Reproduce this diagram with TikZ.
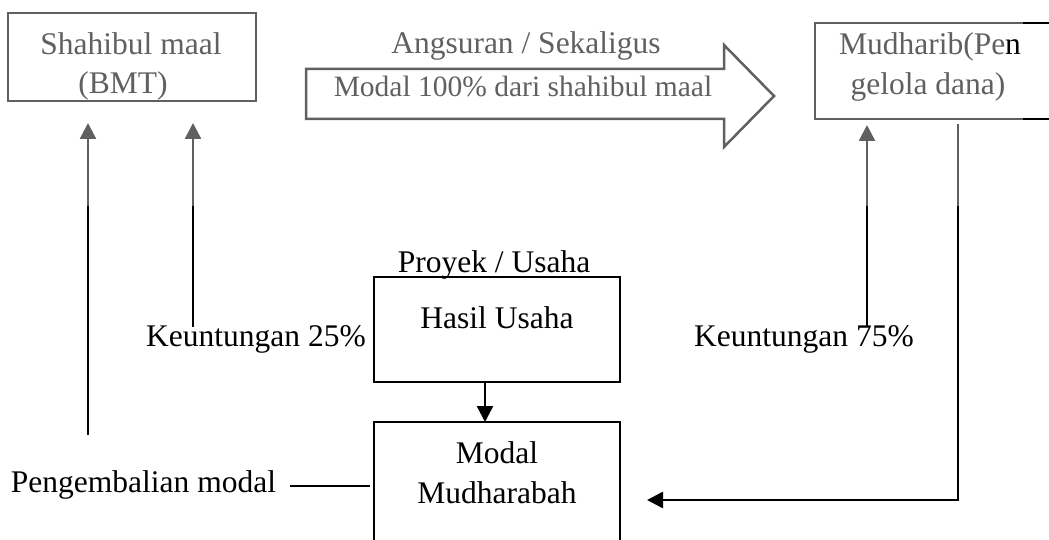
\documentclass[tikz,border=0pt]{standalone}
\usepackage{fontspec}
\setmainfont{Liberation Serif}
\usetikzlibrary{arrows.meta,calc}
\definecolor{fade}{RGB}{96,96,96}
\begin{document}
\begin{tikzpicture}[x=1pt,y=-1pt,
  box/.style={draw, line width=2.5pt, inner sep=0pt, outer sep=0pt},
  lbl/.style={inner sep=0pt, anchor=base, font=\fontsize{31.5}{38}\selectfont},
  conn/.style={line width=2.5pt},
  tipped/.style={-{Triangle[length=16pt,width=16pt]}}
]
\useasboundingbox (0,0) rectangle (1049,540);
\clip (0,0) rectangle (1049,540);
\fill[white] (0,0) rectangle (1049,540);

% boxes
\node[box, draw=fade, minimum width=248pt, minimum height=88pt] (sm) at (132,57) {};
\node[box, draw=fade, minimum width=262pt, minimum height=96pt] (mu) at (946,71) {};
\draw[line width=2.5pt] ($(mu.north west)+(208,0)$) -- (mu.north east);
\draw[line width=2.5pt] ($(mu.south west)+(208,0)$) -- (mu.south east);
\node[box, minimum width=246pt, minimum height=105pt] (hu) at (497,329.5) {};
\node[box, minimum width=246pt, minimum height=138pt] (mm) at (497,491) {};

% block arrow
\draw[fade, line width=2.5pt, line join=miter] (306,69) -- (724,69) -- (724,45) -- (774,96) -- (724,147) -- (724,119) -- (306,119) -- cycle;

% texts
\node[lbl, text=fade] (t1) at (131,55) {Shahibul maal};
\node[lbl, text=fade] (t2) at (123,94) {(BMT)};
\node[lbl, text=fade] (t3) at (526,54) {Angsuran / Sekaligus};
\node[lbl, text=fade, font=\fontsize{29.5}{36}\selectfont] (t4) at (523,97) {Modal 100\% dari shahibul maal};
\node[lbl, text=fade] (t5) at (930,55) {Mudharib(Pe\textcolor{black}{n}};
\node[lbl, text=fade] (t6) at (928,95) {gelola dana)};

% connectors
\coordinate (a1s) at (88,435);  \coordinate (a1m) at (88,206);
\coordinate (a2s) at (193,327); \coordinate (a2m) at (193,206);
\coordinate (a3s) at (867,327); \coordinate (a3m) at (867,206);
\coordinate (a4m) at (958,206); \coordinate (a4c) at (958,500);
\coordinate (pm) at (0,486);    \coordinate (pmstart) at (290,486);

\draw[conn] (a1s) -- (a1m);
\draw[conn, fade, tipped] (a1m) -- ($(sm.south -| a1m)+(0,22)$);
\draw[conn] (a2s) -- (a2m);
\draw[conn, fade, tipped] (a2m) -- ($(sm.south -| a2m)+(0,22)$);
\draw[conn] (a3s) -- (a3m);
\draw[conn, fade, tipped] (a3m) -- ($(mu.south -| a3m)+(0,6)$);
\draw[conn, fade] ($(mu.south -| a4m)+(0,5)$) -- (a4m);
\draw[conn, tipped] (a4m) -- (a4c) -- ($(mm.east |- a4c)+(27,0)$);
\draw[conn, tipped] (hu.south -| 485,0) -- (mm.north -| 485,0);
\draw[line width=1.2pt] (pmstart) -- ($(mm.west |- pm)+(-4,0)$);

% lower texts
\node[lbl] (t7) at (494,272) {Proyek / Usaha};
\node[lbl] (t8) at (497,328) {Hasil Usaha};
\node[lbl] (t9) at (256,346) {Keuntungan 25\%};
\node[lbl] (t10) at (804,346) {Keuntungan 75\%};
\node[lbl] (t11) at (497,463) {Modal};
\node[lbl] (t12) at (497,503) {Mudharabah};
\node[lbl] (t13) at (143.5,492) {Pengembalian modal};
\end{tikzpicture}
\end{document}
